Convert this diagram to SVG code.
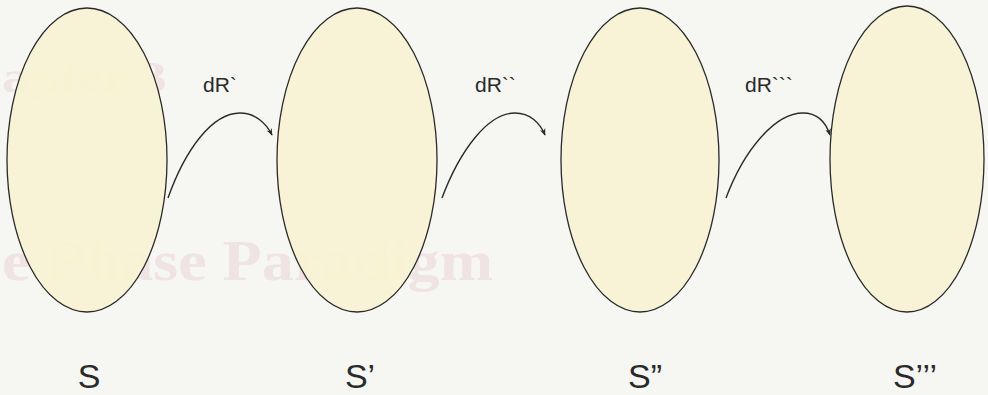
<svg xmlns="http://www.w3.org/2000/svg" width="988" height="395" viewBox="0 0 988 395">
<defs>
<style>
.bg{fill:#f6f6f3}
.ghost{font-family:"Liberation Serif",serif;font-weight:bold;fill:#efe3e3}
.state{fill:#f8f3d3;fill-opacity:0.9;stroke:#2a2a2a;stroke-width:1.3}
.conn{fill:none;stroke:#2a2a2a;stroke-width:1.4}
.lbl{font-family:"Liberation Sans","DejaVu Sans",sans-serif;fill:#2a2a2a}
.dr{font-size:21px}
.s{font-size:34px;text-anchor:middle}
</style>
<marker id="ah" viewBox="0 0 10 10" refX="9" refY="5" markerWidth="7" markerHeight="7" orient="auto" markerUnits="userSpaceOnUse">
<path d="M0,1 L10,5 L0,9 L3,5 Z" fill="#2a2a2a"/>
</marker>
</defs>
<rect class="bg" x="0" y="0" width="988" height="395"/>
<text class="ghost" x="2" y="92" font-size="44" textLength="165" lengthAdjust="spacingAndGlyphs">apter 3</text>
<text class="ghost" x="2" y="280" font-size="58" textLength="491" lengthAdjust="spacingAndGlyphs">e Phase Paradigm</text>
<g id="node-S">
<ellipse class="state" cx="87" cy="160" rx="80" ry="152"/>
<text class="lbl s" x="89" y="388">S</text>
</g>
<g id="node-S1">
<ellipse class="state" cx="357" cy="160" rx="80" ry="152"/>
<text class="lbl s" x="360" y="388">S’</text>
</g>
<g id="node-S2">
<ellipse class="state" cx="640" cy="160" rx="79" ry="152"/>
<text class="lbl s" x="645" y="388">S”</text>
</g>
<g id="node-S3">
<ellipse class="state" cx="907" cy="159" rx="77" ry="153"/>
<text class="lbl s" x="915" y="388">S’’’</text>
</g>
<g id="connectors">
<path class="conn" d="M168,198 C185,150 212,113 240,113 C255,113 266,123 272,135" marker-end="url(#ah)"/>
<text class="lbl dr" x="203" y="92">dR`</text>
<path class="conn" d="M442,198 C460,150 488,113 515,113 C530,113 540,123 545,135" marker-end="url(#ah)"/>
<text class="lbl dr" x="475" y="92">dR``</text>
<path class="conn" d="M726,198 C744,150 775,113 803,113 C818,113 826,123 830,135" marker-end="url(#ah)"/>
<text class="lbl dr" x="745" y="92">dR```</text>
</g>
</svg>
